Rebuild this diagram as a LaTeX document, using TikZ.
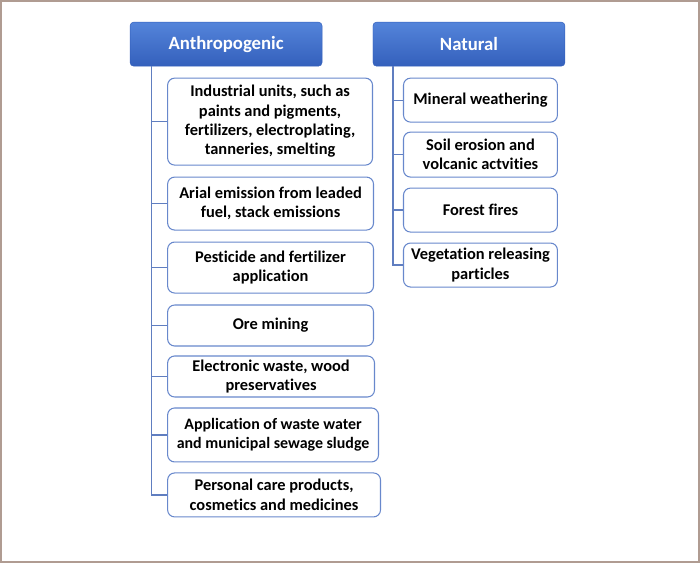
\documentclass[tikz,border=0pt]{standalone}
\usepackage{fontspec}
\setmainfont{Carlito}[Ligatures=NoCommon]
\usepackage{tikz}
\definecolor{frame}{RGB}{176,156,146}
\definecolor{headtop}{RGB}{84,132,218}
\definecolor{headbot}{RGB}{52,96,188}
\definecolor{boxline}{RGB}{104,136,204}
\definecolor{trunk}{RGB}{96,126,192}
\newcommand{\px}{0.03cm}
\tikzset{
  headbox/.style={rounded corners=3pt, top color=headtop, bottom color=headbot,
    draw=headbot, text=white, font=\fontsize{16}{19}\selectfont\bfseries,
    minimum width=192*\px, minimum height=44*\px},
  leafbox/.style={draw=boxline, line width=0.9pt, rounded corners=6pt, fill=white,
    align=center, anchor=west, inner sep=2pt,
    font=\fontsize{14}{16.5}\selectfont\bfseries},
  branch/.style={draw=trunk, line width=1pt}
}
\begin{document}
\begin{tikzpicture}[x=\px,y=-\px]
\draw[frame, line width=2pt] (1,1) rectangle (699,562);
\node[headbox] (anth) at (226,44) {Anthropogenic};
\node[headbox] (nat) at (469,44) {Natural};
% left side
\node[leafbox, minimum width=205*\px, minimum height=87*\px] (a1) at (167,121.5)
  {Industrial units, such as\\paints and pigments,\\fertilizers, electroplating,\\tanneries, smelting};
\node[leafbox, minimum width=206*\px, minimum height=53*\px] (a2) at (167,203.5)
  {Arial emission from leaded\\fuel, stack emissions};
\node[leafbox, minimum width=206*\px, minimum height=51*\px] (a3) at (167,267.5)
  {Pesticide and fertilizer\\application};
\node[leafbox, minimum width=206*\px, minimum height=41*\px] (a4) at (167,325.5)
  {Ore mining};
\node[leafbox, minimum width=207*\px, minimum height=41*\px] (a5) at (167,376.5)
  {Electronic waste, wood\\preservatives};
\node[leafbox, minimum width=211*\px, minimum height=54*\px,
  font=\fontsize{13.6}{16.5}\selectfont\bfseries] (a6) at (167,435)
  {Application of waste water\\and municipal sewage sludge};
\node[leafbox, minimum width=213*\px, minimum height=44*\px] (a7) at (167,495)
  {Personal care products,\\cosmetics and medicines};
% right side
\node[leafbox, minimum width=154*\px, minimum height=44*\px] (n1) at (403,100)
  {Mineral weathering};
\node[leafbox, minimum width=154*\px, minimum height=45*\px] (n2) at (403,154.5)
  {Soil erosion and\\volcanic actvities};
\node[leafbox, minimum width=154*\px, minimum height=44*\px] (n3) at (403,210)
  {Forest fires};
\node[leafbox, minimum width=154*\px, minimum height=44*\px] (n4) at (403,265)
  {Vegetation releasing\\particles};
\coordinate (atrunk) at (151,66);
\coordinate (ntrunk) at (393,66);
\draw[branch] (atrunk) |- (a7.west);
\foreach \b in {a1,a2,a3,a4,a5,a6}
  \draw[branch] (atrunk |- \b.west) -- (\b.west);
\draw[branch] (ntrunk) |- (n4.west);
\foreach \b in {n1,n2,n3}
  \draw[branch] (ntrunk |- \b.west) -- (\b.west);
\end{tikzpicture}
\end{document}
